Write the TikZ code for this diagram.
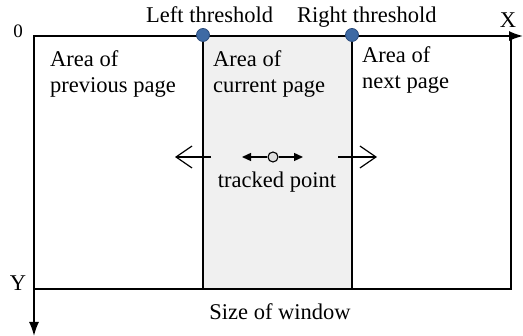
\documentclass[tikz,border=0pt]{standalone}
\usepackage{fontspec}
\setmainfont{Liberation Serif}
\usetikzlibrary{arrows.meta,positioning}
\definecolor{dotblue}{HTML}{3E6AA4}
\definecolor{dotedge}{HTML}{2B4C7C}
\definecolor{pagegray}{HTML}{F0F0F0}

\begin{document}
\begin{tikzpicture}[x=1pt,y=-1pt,
    axis/.style={line width=1.6pt,-{Latex[length=14pt,width=10pt]}},
    frame/.style={line width=1.1pt},
    thr/.style={circle,draw=dotedge,fill=dotblue,line width=0.8pt,
                minimum size=13pt,inner sep=0pt},
    txt/.style={font=\fontsize{22.5}{26}\selectfont,inner sep=0pt},
    area/.style={txt,align=left,anchor=north west},
    bigarrow/.style={line width=1.2pt,
                     -{Straight Barb[length=16pt,width=22pt,line width=1.2pt]}},
    smallarrow/.style={line width=1.3pt,-{Triangle[length=9pt,width=8pt]}},
    tracked/.style={circle,draw,fill=gray!25,line width=1.1pt,
                    minimum size=10pt,inner sep=0pt},
]
\useasboundingbox (0,0) rectangle (523,336);

% ---- x positions ---------------------------------------------------------
\def\xO{34}
\def\xL{203}
\def\xR{352}
\def\xE{511}
\def\yTop{36}
\def\yBot{289}

% ---- Window frame and current page ---------------------------------------
\coordinate (o)    at (\xO,\yTop);
\coordinate (br)   at (\xE,\yBot);
\coordinate (ltop) at (\xL,\yTop);
\coordinate (lbot) at (\xL,\yBot);
\coordinate (rtop) at (\xR,\yTop);
\coordinate (rbot) at (\xR,\yBot);
\fill[pagegray] (ltop) rectangle (rbot);
\draw[frame] (o) rectangle (br);
\draw[frame] (ltop) -- (lbot);
\draw[frame] (rtop) -- (rbot);

% ---- Axes ----------------------------------------------------------------
\coordinate (xend) at (523,\yTop);
\coordinate (yend) at (\xO,336);
\draw[axis] (o) -- (xend);
\draw[axis] (o) -- (yend);
\node[txt,font=\fontsize{19}{22}\selectfont,anchor=base] (zero) at (18,38) {0};
\node[txt,anchor=base] (xlab) at (508,28) {X};
\node[txt,anchor=base] (ylab) at (18,291) {Y};

% ---- Thresholds ----------------------------------------------------------
\node[thr] (lthr) at (\xL,35) {};
\node[thr] (rthr) at (\xR,35) {};
\node[txt,anchor=base west] (llab) at (146,23) {Left threshold};
\node[txt,anchor=base west] (rlab) at (297,23) {Right threshold};

% ---- Page areas ----------------------------------------------------------
\node[area] (prev) at (50,50)  {Area of\\previous page};
\node[area] (curr) at (213,50) {Area of\\current page};
\node[area] (next) at (362,46) {Area of\\next page};

% ---- Tracked point and moves ---------------------------------------------
\node[tracked] (tp) at (273,157) {};
\coordinate (tpl) at (242,157);
\coordinate (tpr) at (303,157);
\draw[smallarrow] (tp) -- (tpl);
\draw[smallarrow] (tp) -- (tpr);
\node[txt,anchor=base] (tplab) at (277,188) {tracked point};

\coordinate (lfrom) at (211,157);
\coordinate (lto)   at (175,157);
\coordinate (rfrom) at (338,157);
\coordinate (rto)   at (377,157);
\draw[bigarrow] (lfrom) -- (lto);
\draw[bigarrow] (rfrom) -- (rto);

% ---- Window size ---------------------------------------------------------
\node[txt,anchor=base] (size) at (280,320) {Size of window};

\end{tikzpicture}
\end{document}
